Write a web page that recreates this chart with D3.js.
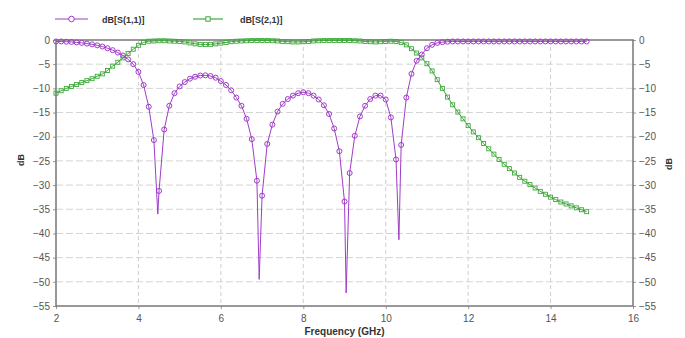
<!DOCTYPE html>
<html><head><meta charset="utf-8">
<script src="https://cdn.jsdelivr.net/npm/d3@7/dist/d3.min.js"></script>
<style>
html,body{margin:0;padding:0;background:#fff;}
svg{display:block;font-family:"Liberation Sans",Arial,sans-serif;}
</style></head>
<body><svg id="c" width="685" height="338"></svg>
<script>
const freqs = [2.000,2.125,2.250,2.375,2.500,2.625,2.750,2.875,3.000,3.125,3.250,3.375,3.500,3.625,3.750,3.875,
4.000,4.125,4.250,4.375,4.500,4.625,4.750,4.875,5.000,5.125,5.250,5.375,5.500,5.625,5.750,5.875,
6.000,6.125,6.250,6.375,6.500,6.625,6.750,6.875,7.000,7.125,7.250,7.375,7.500,7.625,7.750,7.875,
8.000,8.125,8.250,8.375,8.500,8.625,8.750,8.875,9.000,9.125,9.250,9.375,9.500,9.625,9.750,9.875,
10.000,10.125,10.250,10.375,10.500,10.625,10.750,10.875,11.000,11.125,11.250,11.375,11.500,11.625,11.750,11.875,
12.000,12.125,12.250,12.375,12.500,12.625,12.750,12.875,13.000,13.125,13.250,13.375,13.500,13.625,13.750,13.875,
14.000,14.125,14.250,14.375,14.500,14.625,14.750,14.875];

const s11 = [-0.30,-0.30,-0.35,-0.40,-0.50,-0.60,-0.75,-0.90,-1.10,-1.35,-1.70,-2.10,-2.60,-3.20,-4.00,-5.00,
-6.60,-9.30,-13.8,-20.7,-31.2,-18.5,-13.6,-11.0,-9.6,-8.7,-8.0,-7.6,-7.35,-7.3,-7.45,-7.8,
-8.5,-9.3,-10.4,-11.9,-13.6,-16.3,-20.5,-29.1,-32.2,-21.5,-17.5,-14.8,-13.2,-12.2,-11.5,-11.0,
-10.8,-11.0,-11.5,-12.3,-13.5,-15.3,-18.3,-23.0,-33.4,-27.5,-19.8,-15.8,-13.6,-12.2,-11.5,-11.5,
-12.3,-16.0,-24.7,-21.7,-11.9,-7.0,-4.3,-3.0,-1.7,-1.0,-0.6,-0.45,-0.35,-0.3,-0.3,-0.3,
-0.3,-0.3,-0.3,-0.3,-0.3,-0.3,-0.3,-0.3,-0.3,-0.3,-0.3,-0.3,-0.3,-0.3,-0.3,-0.3,
-0.3,-0.3,-0.3,-0.3,-0.3,-0.3,-0.3,-0.3];

// resonance minima of S(1,1) between sample markers (drawn by the line only)
const s11DipFreqs = [4.47, 6.93, 9.04, 10.32];
const s11DipValues = [-36.0, -49.5, -52.3, -41.3];

const s21 = [-11.0,-10.5,-10.0,-9.6,-9.2,-8.8,-8.4,-8.0,-7.5,-7.0,-6.3,-5.4,-4.6,-3.7,-2.8,-1.9,
-1.1,-0.5,-0.25,-0.2,-0.15,-0.15,-0.2,-0.25,-0.3,-0.4,-0.6,-0.8,-0.9,-0.95,-0.9,-0.8,
-0.65,-0.5,-0.35,-0.25,-0.2,-0.15,-0.1,-0.1,-0.1,-0.1,-0.15,-0.2,-0.3,-0.35,-0.4,-0.4,
-0.35,-0.3,-0.2,-0.15,-0.1,-0.1,-0.1,-0.1,-0.1,-0.1,-0.15,-0.2,-0.3,-0.35,-0.4,-0.35,
-0.3,-0.25,-0.3,-0.5,-1.0,-1.8,-2.7,-3.7,-4.9,-6.4,-8.2,-10.0,-11.8,-13.4,-14.9,-16.3,
-17.7,-19.0,-20.2,-21.4,-22.5,-23.6,-24.7,-25.7,-26.6,-27.5,-28.4,-29.2,-29.9,-30.6,-31.3,-31.9,
-32.5,-33.0,-33.5,-33.9,-34.3,-34.7,-35.1,-35.5];

const xTicks = [2,4,6,8,10,12,14,16];
const yTicks = [0,-5,-10,-15,-20,-25,-30,-35,-40,-45,-50,-55];
const seriesNames = ["dB[S(1,1)]","dB[S(2,1)]"];
const colors = ["#a03cc8","#3ea83a"];

const svg = d3.select("#c");
const L = 56, R = 633, T = 40, B = 306;
const x = d3.scaleLinear().domain([2,16]).range([L,R]);
const y = d3.scaleLinear().domain([-55,0]).range([B,T]);

// grid
const g = svg.append("g");
g.selectAll("line.h").data(yTicks.filter(v=>v>-55 && v<0)).join("line")
  .attr("x1",L).attr("x2",R).attr("y1",d=>y(d)).attr("y2",d=>y(d))
  .attr("stroke","#d4d4d4").attr("stroke-width",1).attr("stroke-dasharray","7,3");
g.selectAll("line.v").data(xTicks.filter(v=>v>2 && v<16)).join("line")
  .attr("y1",T).attr("y2",B).attr("x1",d=>x(d)).attr("x2",d=>x(d))
  .attr("stroke","#cfcfcf").attr("stroke-width",1).attr("stroke-dasharray","4,3");

// axes
const axL = d3.axisLeft(y).tickValues(yTicks).tickSize(3).tickPadding(3);
const axR = d3.axisRight(y).tickValues(yTicks).tickSize(3).tickPadding(3);
const axB = d3.axisBottom(x).tickValues(xTicks).tickSize(3).tickPadding(6);
function styleAxis(sel){
  sel.select(".domain").remove();
  sel.selectAll("line").attr("stroke","#999");
  sel.selectAll("text").attr("fill","#555").attr("font-size","10px")
     .attr("font-family","'Liberation Sans',Arial,sans-serif");
}
svg.append("g").attr("transform",`translate(${L},0)`).call(axL).call(styleAxis);
svg.append("g").attr("transform",`translate(${R},0)`).call(axR).call(styleAxis);
svg.append("g").attr("transform",`translate(0,${B})`).call(axB).call(styleAxis);

// frame
svg.append("rect").attr("x",L).attr("y",T).attr("width",R-L).attr("height",B-T)
  .attr("fill","none").attr("stroke","#777").attr("stroke-width",1.5);

// axis titles
svg.append("text").attr("x",(L+R)/2).attr("y",335).attr("text-anchor","middle")
  .attr("font-size","10px").attr("font-weight","bold").attr("fill","#333").text("Frequency (GHz)");
svg.append("text").attr("transform","translate(24,160) rotate(-90)").attr("text-anchor","middle")
  .attr("font-size","9px").attr("font-weight","bold").attr("fill","#333").text("dB");
svg.append("text").attr("transform","translate(672,164) rotate(-90)").attr("text-anchor","middle")
  .attr("font-size","9px").attr("font-weight","bold").attr("fill","#333").text("dB");

// data
const s11Markers = freqs.map((f,i)=>({f, v:s11[i]}));
const s11Line = s11Markers.concat(s11DipFreqs.map((f,i)=>({f, v:s11DipValues[i]})))
  .sort((a,b)=>a.f-b.f);
const s21Pts = freqs.map((f,i)=>({f, v:s21[i]}));
const line = d3.line().x(d=>x(d.f)).y(d=>y(d.v));

const plot = svg.append("g");
plot.append("path").datum(s21Pts).attr("d",line).attr("fill","none")
  .attr("stroke",colors[1]).attr("stroke-width",1);
plot.selectAll("rect.m21").data(s21Pts).join("rect")
  .attr("x",d=>x(d.f)-2).attr("y",d=>y(d.v)-2).attr("width",4).attr("height",4)
  .attr("fill","none").attr("stroke",colors[1]).attr("stroke-width",0.9);

plot.append("path").datum(s11Line).attr("d",line).attr("fill","none")
  .attr("stroke",colors[0]).attr("stroke-width",1);
plot.selectAll("circle.m11").data(s11Markers).join("circle")
  .attr("cx",d=>x(d.f)).attr("cy",d=>y(d.v)).attr("r",2.5)
  .attr("fill","none").attr("stroke",colors[0]).attr("stroke-width",1);

// legend
const leg = svg.append("g");
const legX = [55,193], legTx = [102,240], legLen = [33,30];
seriesNames.forEach((n,i)=>{
  leg.append("line").attr("x1",legX[i]).attr("x2",legX[i]+legLen[i]).attr("y1",19).attr("y2",19)
    .attr("stroke",colors[i]).attr("stroke-width",1.2);
  const cx = legX[i]+legLen[i]/2;
  if(i===0) leg.append("circle").attr("cx",cx).attr("cy",19).attr("r",2.8)
      .attr("fill","#fff").attr("stroke",colors[i]).attr("stroke-width",1);
  else leg.append("rect").attr("x",cx-2.2).attr("y",16.8).attr("width",4.4).attr("height",4.4)
      .attr("fill","#fff").attr("stroke",colors[i]).attr("stroke-width",1);
  leg.append("text").attr("x",legTx[i]).attr("y",22.5).attr("font-size","9px")
    .attr("font-weight","bold").attr("fill","#333").text(n);
});
</script></body></html>
